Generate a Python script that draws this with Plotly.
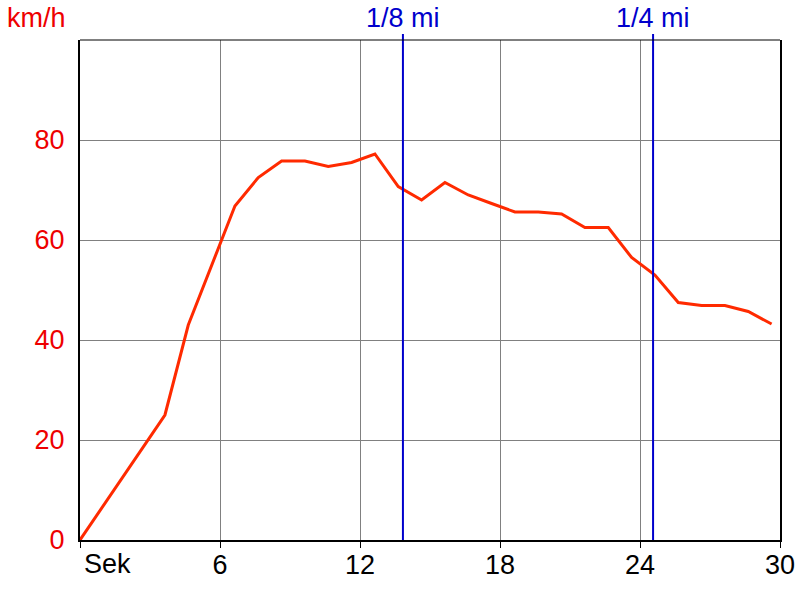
import plotly.graph_objects as go

# Data
time_s = [0, 3.64, 4.64, 5.64, 6.64, 7.64, 8.64, 9.64, 10.64, 11.64, 12.64, 13.64,
          14.64, 15.64, 16.64, 17.64, 18.64, 19.64, 20.64, 21.64, 22.64, 23.64,
          24.64, 25.64, 26.64, 27.64, 28.64, 29.64]
speed_kmh = [0, 25, 43, 55, 66.8, 72.5, 75.8, 75.8, 74.7, 75.5, 77.2, 70.7,
             68, 71.5, 69, 67.3, 65.6, 65.6, 65.2, 62.5, 62.5, 56.5,
             53, 47.5, 46.9, 46.9, 45.7, 43.2]

mark_times = [13.84, 24.56]
mark_labels = ["1/8 mi", "1/4 mi"]

x_tickvals = [0, 6, 12, 18, 24, 30]
x_ticktext = ["", "6", "12", "18", "24", "30"]
y_tickvals = [0, 20, 40, 60, 80]
y_ticktext = ["0", "20", "40", "60", "80"]

FONT = "Liberation Sans, Arial, sans-serif"
FS = 27
RED = "#ff2a00"
BLUE = "#0000cc"

fig = go.Figure()
fig.add_trace(go.Scatter(x=time_s, y=speed_kmh, mode="lines",
                         line=dict(color=RED, width=3), showlegend=False,
                         hoverinfo="x+y"))

for t, lab in zip(mark_times, mark_labels):
    fig.add_shape(type="line", xref="x", yref="paper", x0=t, x1=t, y0=0, y1=1.012,
                  line=dict(color=BLUE, width=2), layer="above")
    fig.add_annotation(x=t, xref="x", y=1.0, yref="paper", yshift=22, text=lab,
                       showarrow=False, font=dict(color=BLUE, size=FS, family=FONT),
                       xanchor="center", yanchor="middle")

# top border
fig.add_shape(type="line", xref="paper", yref="paper", x0=0, x1=1, y0=1, y1=1,
              line=dict(color="black", width=1), layer="above")

fig.add_annotation(x=0, xref="paper", y=1.0, yref="paper", xshift=-44, yshift=22,
                   text="km/h", showarrow=False,
                   font=dict(color="#ee0000", size=FS, family=FONT),
                   xanchor="center", yanchor="middle")
fig.add_annotation(x=0, xref="x", y=0, yref="paper", xshift=2, yshift=-24,
                   text="Sek", showarrow=False,
                   font=dict(color="black", size=FS, family=FONT),
                   xanchor="left", yanchor="middle")

fig.update_layout(
    width=800, height=600,
    margin=dict(l=80, r=20, t=40, b=60, autoexpand=False),
    paper_bgcolor="white", plot_bgcolor="white",
    font=dict(family=FONT, size=FS),
    xaxis=dict(range=[0, 30], tickvals=x_tickvals, ticktext=x_ticktext,
               showgrid=True, gridcolor="#808080", gridwidth=1,
               showline=True, linecolor="black", linewidth=2,
               ticks="outside", ticklen=6, tickcolor="black", tickwidth=1,
               ticklabelstandoff=-6,
               tickfont=dict(color="black", size=FS, family=FONT),
               zeroline=False, fixedrange=True, automargin=False),
    yaxis=dict(range=[0, 100], tickvals=y_tickvals, ticktext=y_ticktext,
               showgrid=True, gridcolor="#808080", gridwidth=1,
               showline=True, linecolor="black", linewidth=2, mirror=True,
               ticks="", ticklabelstandoff=8,
               tickfont=dict(color="#ee0000", size=FS, family=FONT),
               zeroline=False, fixedrange=True, automargin=False),
)

# remove the default 8px page margin so the figure sits at the window's top-left
fig.write_html("out.html", config={"displayModeBar": False},
               post_script="document.body.style.margin='0';")
